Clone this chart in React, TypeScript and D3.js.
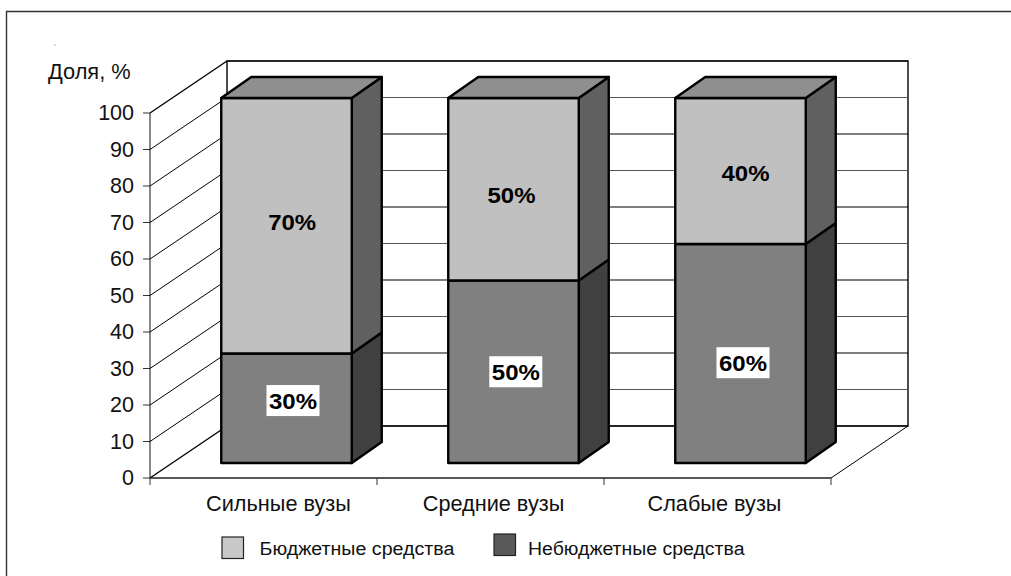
import React from "react";
import * as d3 from "d3";

const categories = ["Сильные вузы", "Средние вузы", "Слабые вузы"];
const seriesNames = ["Небюджетные средства", "Бюджетные средства"];
const offBudget = [30, 50, 60];
const budget = [70, 50, 40];
const yTicks = [0, 10, 20, 30, 40, 50, 60, 70, 80, 90, 100];

// layout of the fake 3d box
const W = 1011;
const H = 576;
const plot = { left: 150, right: 831, top: 113, bottom: 478 };
const depth = { dx: 77, dy: -52 };
const barDepth = { dx: 30, dy: -21 };
const barShift = { dx: 23, dy: -15 };
const barWidth = 130.5;

const FONT = "'Liberation Sans', Arial, sans-serif";
const FACE = [
  { front: "#808080", top: "#6a6a6a", side: "#404040" },
  { front: "#c0c0c0", top: "#8f8f8f", side: "#606060" },
];
// the original labels do not sit at segment centres
const labelNudge = [
  { x: [6.5, 2.3, 2.5], y: [-7.7, 0, 9.2] },
  { x: [5.7, -2, 5], y: [-3.7, 6, 1.4] },
];
const categoryNudge = [20, 8, 2];

const y = d3.scaleLinear().domain([0, 100]).range([plot.bottom, plot.top]);
const x = d3.scaleBand<string>().domain(categories).range([plot.left, plot.right]);
const xEdges = [...categories.map((c) => x(c) as number), plot.right];

const rows = categories.map((c, i) => ({ cat: c, off: offBudget[i], bud: budget[i] }));
const stacked = d3.stack<any>().keys(["off", "bud"])(rows);

const pts = (p: number[][]) => p.map((q) => q.join(",")).join(" ");
const bx = (c: string) => (x(c) as number) + barShift.dx + (x.bandwidth() - barWidth) / 2;

export default function App() {
  const line = { stroke: "#000", strokeWidth: 1.4, fill: "none" };
  return (
    <svg width={W} height={H} style={{ position: "absolute", left: 0, top: 0, background: "#fff" }} fontFamily={FONT}>
      {/* outer frame, open at the bottom and right */}
      <path d="M1011,11.5H6.5V576" fill="none" stroke="#333" strokeWidth={1.4} />
      <circle cx={55} cy={45} r={0.6} fill="#555" />

      {/* back wall */}
      <rect x={plot.left + depth.dx} y={plot.top + depth.dy} width={plot.right - plot.left} height={plot.bottom - plot.top} {...line} />
      {yTicks.map((t) => (
        <g key={t}>
          <line x1={plot.left} y1={y(t)} x2={plot.left + depth.dx} y2={y(t) + depth.dy} stroke="#000" strokeWidth={t === 0 || t === 100 ? 1.4 : 1} />
          <line x1={plot.left + depth.dx} y1={y(t) + depth.dy} x2={plot.right + depth.dx} y2={y(t) + depth.dy} stroke={t % 20 === 0 ? "#000" : "#555"} strokeWidth={1.2} />
          <line x1={plot.left - 7} y1={y(t)} x2={plot.left} y2={y(t)} stroke="#333" strokeWidth={1} />
          <text x={134} y={y(t) - 0.5} dy="0.36em" textAnchor="end" fontSize={21.5} fill="#111">{t}</text>
        </g>
      ))}
      <line x1={plot.left} y1={plot.top} x2={plot.left} y2={plot.bottom} stroke="#111" strokeWidth={1} />
      <line x1={plot.right} y1={plot.bottom} x2={plot.right + depth.dx} y2={plot.bottom + depth.dy} stroke="#000" strokeWidth={1} />
      <line x1={plot.left} y1={plot.bottom} x2={plot.right} y2={plot.bottom} stroke="#222" strokeWidth={1.4} />
      {xEdges.map((e) => (
        <line key={e} x1={e} y1={plot.bottom} x2={e} y2={plot.bottom + 7} stroke="#333" strokeWidth={1} />
      ))}
      <text x={48} y={71} dy="0.36em" fontSize={21.8} fill="#111">Доля, %</text>

      {/* stacked bars */}
      {stacked.map((s, si) =>
        s.map((d, i) => {
          const c = categories[i];
          const x0 = bx(c);
          const x1 = x0 + barWidth;
          const yb = y(d[0]) + barShift.dy;
          const yt = y(d[1]) + barShift.dy;
          const f = FACE[si];
          return (
            <g key={c + si} stroke="#000" strokeWidth={2.4} strokeLinejoin="round">
              <polygon points={pts([[x1, yb], [x1 + barDepth.dx, yb + barDepth.dy], [x1 + barDepth.dx, yt + barDepth.dy], [x1, yt]])} fill={f.side} />
              <rect x={x0} y={yt} width={barWidth} height={yb - yt} fill={f.front} />
              {d[1] === 100 && (
                <polygon points={pts([[x0, yt], [x0 + barDepth.dx, yt + barDepth.dy], [x1 + barDepth.dx, yt + barDepth.dy], [x1, yt]])} fill={f.top} />
              )}
            </g>
          );
        })
      )}

      {/* value labels */}
      {stacked.map((s, si) =>
        s.map((d, i) => {
          const cx = bx(categories[i]) + barWidth / 2 + labelNudge[si].x[i];
          const cy = y((d[0] + d[1]) / 2) + barShift.dy + labelNudge[si].y[i];
          return (
            <g key={i}>
              {si === 0 && <rect x={cx - 26.5} y={cy - 15.5} width={53} height={31} fill="#fff" />}
              <text x={cx - 24} y={cy} dy="0.36em" textLength={48} lengthAdjust="spacingAndGlyphs" fontSize={22.5} fontWeight="bold" fill="#000">{`${d[1] - d[0]}%`}</text>
            </g>
          );
        })
      )}

      {/* category labels */}
      {categories.map((c, i) => (
        <text key={c} x={(x(c) as number) + x.bandwidth() / 2 + categoryNudge[i] - 5} y={503} dy="0.36em" textAnchor="middle" fontSize={21.7} fill="#111">{c}</text>
      ))}

      {/* legend */}
      <rect x={222} y={537} width={21.5} height={21.5} fill="#c8c8c8" stroke="#222" strokeWidth={1.2} />
      <text x={259.5} y={549} dy="0.36em" fontSize={18} textLength={195} lengthAdjust="spacingAndGlyphs" fill="#111">{seriesNames[1]}</text>
      <rect x={494} y={534} width={21.5} height={21.5} fill="#595959" stroke="#222" strokeWidth={1.2} />
      <text x={528} y={549} dy="0.36em" fontSize={18} textLength={216.5} lengthAdjust="spacingAndGlyphs" fill="#111">{seriesNames[0]}</text>
    </svg>
  );
}
